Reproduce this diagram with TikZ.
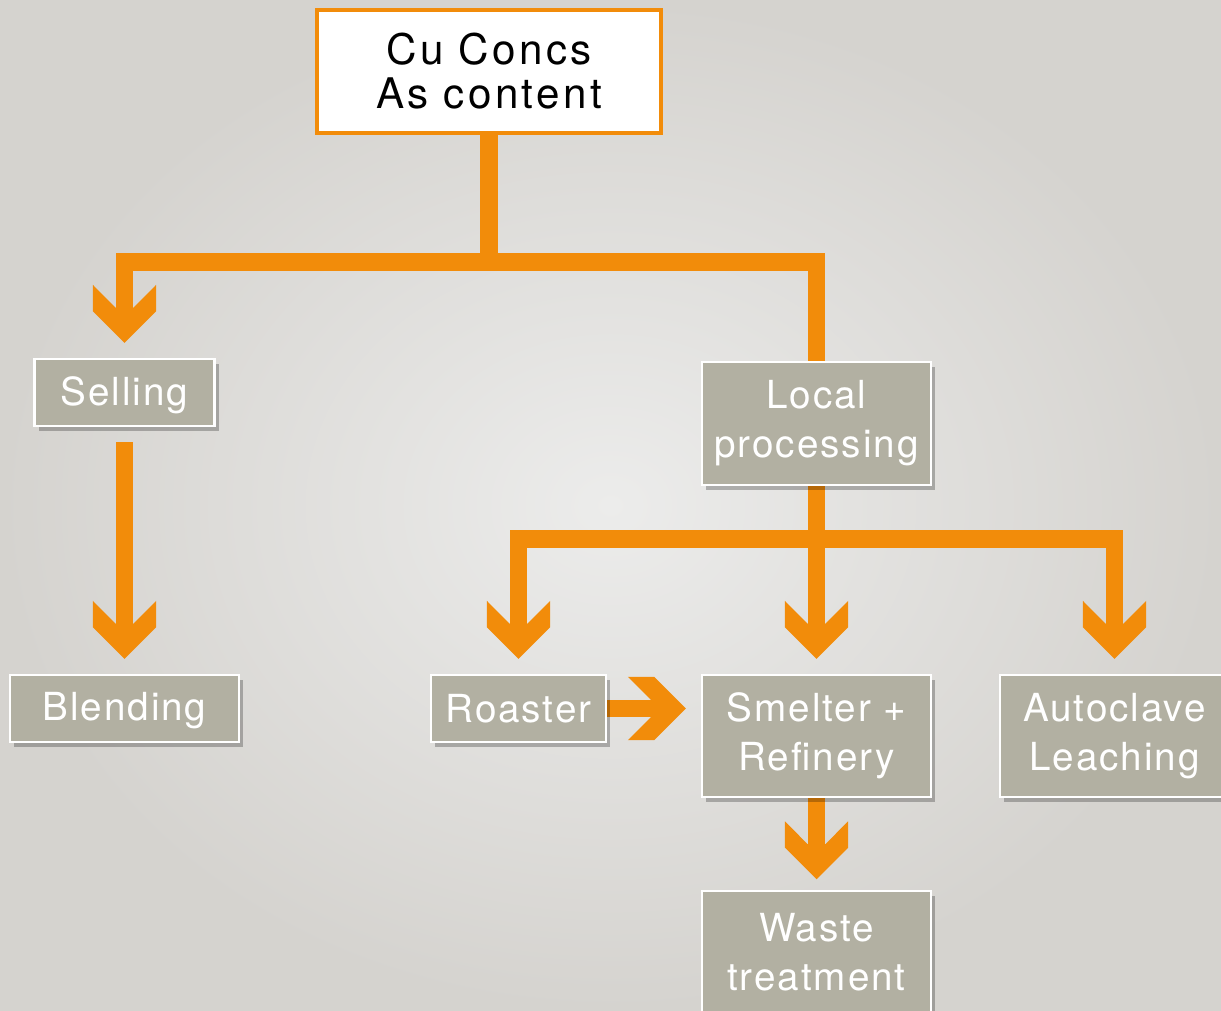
\documentclass[tikz,border=0pt]{standalone}
\usepackage{fontspec}
\setmainfont{TeX Gyre Heros}
\newfontfamily\boxfont[LetterSpace=5]{TeX Gyre Heros}
\newfontfamily\headfont[LetterSpace=8]{TeX Gyre Heros}
\usetikzlibrary{shadows}

\definecolor{cuorange}{RGB}{242,140,10}
\definecolor{boxgrey}{RGB}{178,176,162}
\definecolor{bgin}{RGB}{236,236,235}
\definecolor{bgout}{RGB}{213,211,207}

% chevron head for the flow lines
\pgfdeclarearrow{
  name = Chev,
  setup code = {
    \pgfarrowssettipend{0pt}
    \pgfarrowssetlineend{-18pt}
    \pgfarrowssetvisualbackend{-33pt}
    \pgfarrowsupperhullpoint{-33pt}{18pt}
    \pgfarrowsupperhullpoint{0pt}{0pt}
  },
  drawing code = {
    \pgfpathmoveto{\pgfpoint{0pt}{0pt}}
    \pgfpathlineto{\pgfpoint{-18pt}{18pt}}
    \pgfpathlineto{\pgfpoint{-33pt}{18pt}}
    \pgfpathlineto{\pgfpoint{-20pt}{5.1pt}}
    \pgfpathlineto{\pgfpoint{-20pt}{-5.1pt}}
    \pgfpathlineto{\pgfpoint{-33pt}{-18pt}}
    \pgfpathlineto{\pgfpoint{-18pt}{-18pt}}
    \pgfpathclose
    \pgfusepathqfill
  }
}

\pgfdeclarelayer{bg}
\pgfdeclarelayer{edges}
\pgfsetlayers{bg,edges,main}

\begin{document}
\begin{tikzpicture}[x=0.02cm,y=-0.02cm,
  procbox/.style={rectangle,fill=boxgrey,draw=white,line width=1.4pt,text=white,
    font=\boxfont\fontsize{22}{28}\selectfont,align=center,inner sep=0pt,
    drop shadow={shadow xshift=2.5pt,shadow yshift=-3pt,fill=black,opacity=.25}},
  headbox/.style={rectangle,fill=white,draw=cuorange,line width=2.8pt,text=black,
    font=\headfont\fontsize{24}{25}\selectfont,align=center,inner sep=0pt},
  flow/.style={draw=cuorange,line width=10.2pt},
  tip/.style={-Chev,shorten >=8.5pt}]
  \useasboundingbox (0,0) rectangle (1221,1011);
  \clip (0,0) rectangle (1221,1011);
  \begin{pgfonlayer}{bg}
    \shade[inner color=bgin,outer color=bgout] (0,0) rectangle (1221,1011);
  \end{pgfonlayer}

  %top node
  \node [headbox,minimum width=6.88cm,minimum height=2.46cm] (cu) at (489,71.5) {Cu Concs\\As content};

  %left nodes
  \node [procbox,minimum width=3.6cm,minimum height=1.34cm,text depth=2pt] (sell) at (124.5,392.5) {Selling};
  \node [procbox,minimum width=4.58cm,minimum height=1.34cm,text depth=2pt] (blend) at (124.5,708.5) {Blending};

  %right nodes
  \node [procbox,minimum width=4.58cm,minimum height=2.46cm] (local) at (816.5,423.5) {Local\\processing};
  \node [procbox,minimum width=3.5cm,minimum height=1.34cm] (roast) at (518.5,708.5) {Roaster};
  \node [procbox,minimum width=4.58cm,minimum height=2.44cm] (smelt) at (816.5,736) {Smelter +\\Refinery};
  \node [procbox,minimum width=4.58cm,minimum height=2.44cm] (auto) at (1114.5,736) {Autoclave\\Leaching};
  \node [procbox,minimum width=4.58cm,minimum height=2.44cm] (waste) at (816.5,952) {Waste\\treatment};

  %split points
  \coordinate (s1) at (489,262);
  \coordinate (s2) at (816.5,539);

  %edges
  \begin{pgfonlayer}{edges}
    \draw[flow] (cu) -- (s1);
    \draw[flow,tip] (s1) -| (sell);
    \draw[flow] (s1) -| (local);
    \draw[flow,tip,shorten <=8.5pt] (sell) -- (blend);
    \draw[flow] (local) -- (s2);
    \draw[flow,tip] (s2) -| (roast);
    \draw[flow,tip] (s2) -- (smelt);
    \draw[flow,tip] (s2) -| (auto);
    \draw[flow,tip] (roast) -- (roast -| smelt.west);
    \draw[flow,tip,shorten >=6pt] (smelt) -- (waste);
  \end{pgfonlayer}
\end{tikzpicture}
\end{document}
